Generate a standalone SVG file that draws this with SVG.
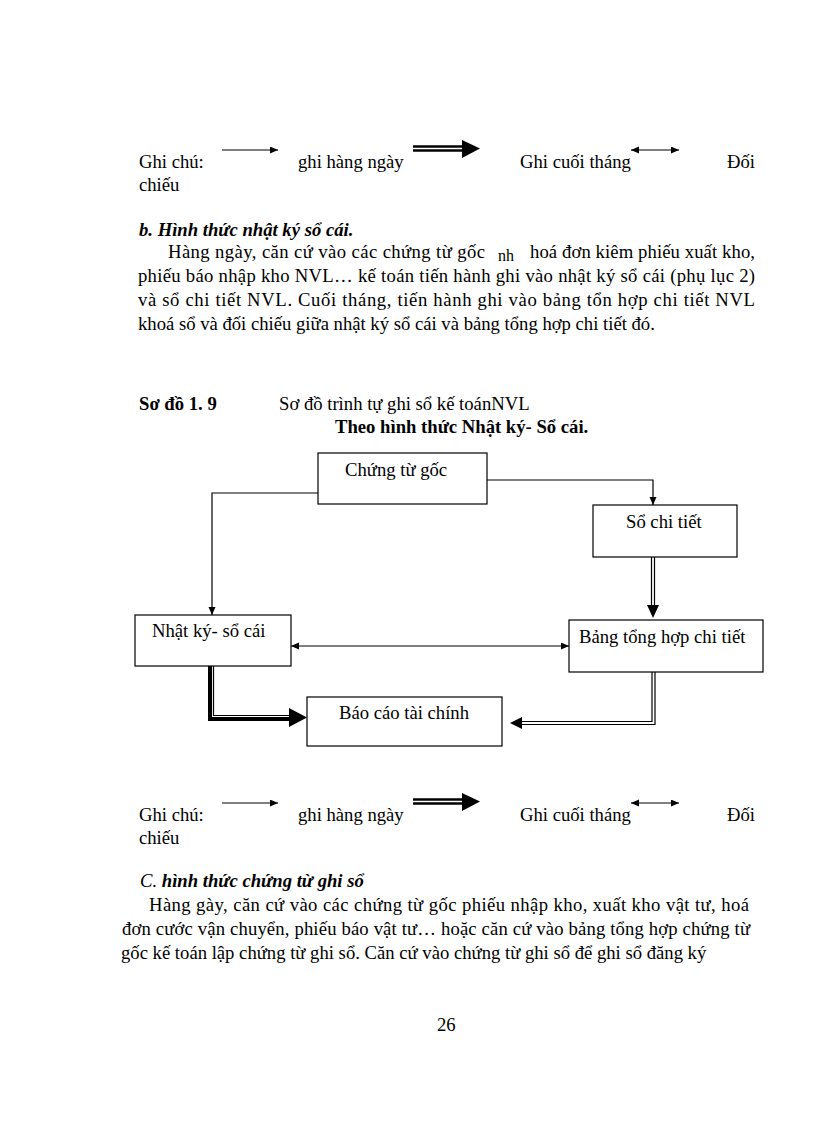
<svg xmlns="http://www.w3.org/2000/svg" width="816" height="1123" viewBox="0 0 816 1123">
<style>
text{font-family:"Liberation Serif","Times New Roman",serif;font-size:18.67px;fill:#000}
.b{font-weight:bold}
.bi{font-weight:bold;font-style:italic}
.i{font-style:italic}
.box{fill:#fff;stroke:#000;stroke-width:1.2}
.ln{fill:none;stroke:#000;stroke-width:1.2}
.thick{fill:none;stroke:#000;stroke-width:4;stroke-linejoin:miter}
.dl{fill:none;stroke:#000;stroke-width:2.4}
.head{fill:#000}
</style>
<defs>
<marker id="arr" markerUnits="userSpaceOnUse" markerWidth="10" markerHeight="8" refX="8" refY="3.5" orient="auto-start-reverse">
<path d="M0,0 L8,3.5 L0,7 z" fill="#000"/>
</marker>
</defs>
<rect x="0" y="0" width="816" height="1123" fill="#fff"/>

<g id="legend-top">
<text x="139" y="168">Ghi chú:</text>
<line x1="222" y1="150" x2="278" y2="150" class="ln" marker-end="url(#arr)"/>
<text x="298" y="168">ghi hàng ngày</text>
<line x1="413" y1="146.5" x2="464" y2="146.5" class="dl"/>
<line x1="413" y1="150.5" x2="464" y2="150.5" class="dl"/>
<polygon points="462,140 480,148.5 462,158" class="head"/>
<text x="520" y="168">Ghi cuối tháng</text>
<line x1="631" y1="150" x2="679" y2="150" class="ln" marker-start="url(#arr)" marker-end="url(#arr)"/>
<text x="727" y="168">Đối</text>
<text x="139" y="191">chiếu</text>
</g>

<text x="139" y="236" class="bi">b. Hình thức nhật ký sổ cái.</text>
<text x="168" y="258" textLength="317" lengthAdjust="spacing">Hàng ngày, căn cứ vào các chứng từ gốc</text>
<text x="498" y="261" style="font-size:16px">nh</text>
<text x="530" y="258" textLength="225" lengthAdjust="spacing">hoá đơn kiêm phiếu xuất kho,</text>
<text x="138" y="282" textLength="617" lengthAdjust="spacing">phiếu báo nhập kho NVL… kế toán tiến hành ghi vào nhật ký sổ cái (phụ lục 2)</text>
<text x="138" y="306" textLength="617" lengthAdjust="spacing">và sổ chi tiết NVL. Cuối tháng, tiến hành ghi vào bảng tổn hợp chi tiết NVL</text>
<text x="138" y="330">khoá sổ và đối chiếu giữa nhật ký sổ cái và bảng tổng hợp chi tiết đó.</text>

<text x="139" y="410" class="b">Sơ đồ 1. 9</text>
<text x="279" y="410">Sơ đồ trình tự ghi sổ kế toánNVL</text>
<text x="335" y="433" class="b">Theo hình thức Nhật ký- Sổ cái.</text>

<g id="connectors">
<path d="M318,493 H212 V615" class="ln" marker-end="url(#arr)"/>
<path d="M487,480 H653 V505" class="ln" marker-end="url(#arr)"/>
<line x1="291" y1="646" x2="569" y2="646" class="ln" marker-start="url(#arr)" marker-end="url(#arr)"/>
<line x1="651.5" y1="557" x2="651.5" y2="607" class="ln"/>
<line x1="654.5" y1="557" x2="654.5" y2="607" class="ln"/>
<polygon points="647,605 659,605 653,618" class="head"/>
<path d="M210,666 V719 H291" class="thick"/>
<path d="M213.5,666 V715.5 H291" class="ln"/>
<polygon points="289,708 307,717.5 289,727" class="head"/>
<path d="M655,672 V724.5 H520" class="ln"/>
<path d="M652,672 V721.5 H520" class="ln"/>
<polygon points="522,717 510,723 522,729" class="head"/>
</g>

<g id="node-chung-tu-goc">
<rect x="318" y="453" width="169" height="51" class="box"/>
<text x="345" y="476">Chứng từ gốc</text>
</g>
<g id="node-so-chi-tiet">
<rect x="593" y="505" width="144" height="52" class="box"/>
<text x="626" y="528">Sổ chi tiết</text>
</g>
<g id="node-nhat-ky-so-cai">
<rect x="135" y="615" width="156" height="51" class="box"/>
<text x="152" y="637">Nhật ký- sổ cái</text>
</g>
<g id="node-bang-tong-hop">
<rect x="569" y="620" width="194" height="52" class="box"/>
<text x="579" y="643">Bảng tổng hợp chi tiết</text>
</g>
<g id="node-bao-cao">
<rect x="307" y="697" width="195" height="49" class="box"/>
<text x="339" y="719">Báo cáo tài chính</text>
</g>

<g id="legend-bottom">
<text x="139" y="821">Ghi chú:</text>
<line x1="222" y1="803" x2="278" y2="803" class="ln" marker-end="url(#arr)"/>
<text x="298" y="821">ghi hàng ngày</text>
<line x1="413" y1="799.5" x2="464" y2="799.5" class="dl"/>
<line x1="413" y1="803.5" x2="464" y2="803.5" class="dl"/>
<polygon points="462,793 480,801.5 462,811" class="head"/>
<text x="520" y="821">Ghi cuối tháng</text>
<line x1="631" y1="803" x2="679" y2="803" class="ln" marker-start="url(#arr)" marker-end="url(#arr)"/>
<text x="727" y="821">Đối</text>
<text x="139" y="844">chiếu</text>
</g>

<text x="140" y="887"><tspan class="i">C. </tspan><tspan class="bi">hình thức chứng từ ghi sổ</tspan></text>
<text x="149" y="911" textLength="600" lengthAdjust="spacing">Hàng gày, căn cứ vào các chứng từ gốc phiếu nhập kho, xuất kho vật tư, hoá</text>
<text x="122" y="935" textLength="628" lengthAdjust="spacing">đơn cước vận chuyển, phiếu báo vật tư… hoặc căn cứ vào bảng tổng hợp chứng từ</text>
<text x="121" y="959">gốc kế toán lập chứng từ ghi sổ. Căn cứ vào chứng từ ghi sổ để ghi sổ đăng ký</text>

<text x="437" y="1031">26</text>
</svg>
